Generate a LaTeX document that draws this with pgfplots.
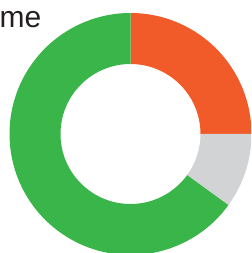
\documentclass[border=0pt]{standalone}
\usepackage{fontspec}
\setmainfont{Liberation Sans}
\usepackage{pgfplots}
\usepackage{pgfplotstable}
\pgfplotsset{compat=1.18}
\definecolor{cOrange}{RGB}{241,90,41}
\definecolor{cGray}{RGB}{209,211,212}
\definecolor{cGreen}{RGB}{57,181,74}
\definecolor{cText}{RGB}{35,31,32}
\pgfplotstableread{
label value
A 25
B 10
C 65
}\donutdata
\begin{document}
\begin{tikzpicture}
\pgfplotstablegetelem{0}{value}\of\donutdata \let\va\pgfplotsretval
\pgfplotstablegetelem{1}{value}\of\donutdata \let\vb\pgfplotsretval
\pgfplotstablegetelem{2}{value}\of\donutdata \let\vc\pgfplotsretval
\pgfmathsetmacro{\aA}{90}
\pgfmathsetmacro{\aB}{90-3.6*\va}
\pgfmathsetmacro{\aC}{\aB-3.6*\vb}
\pgfmathsetmacro{\aD}{\aC-3.6*\vc}
\newcommand{\sector}[3]{%
  \fill[#3] (c) ++(#1:121pt) arc[start angle=#1,end angle=#2,radius=121pt]
    -- ([shift={(#2:70pt)}]c) arc[start angle=#2,end angle=#1,radius=70pt] -- cycle;}
\begin{axis}[
  width=251pt, height=253pt, scale only axis,
  xmin=0, xmax=251, ymin=0, ymax=253,
  hide axis, clip=true,
]
\addplot[draw=none] coordinates {(0,0) (251,253)};
\coordinate (c) at (axis cs:130.5,119);
\sector{\aA}{\aB}{cOrange}
\sector{\aB}{\aC}{cGray}
\sector{\aC}{\aD}{cGreen}
\node[anchor=base west, inner sep=0pt, text=cText, font=\fontsize{30}{36}\selectfont] at (axis cs:-0.5,225) {me};
\end{axis}
\pgfresetboundingbox
\useasboundingbox (current axis.south west) rectangle (current axis.north east);
\end{tikzpicture}
\end{document}
